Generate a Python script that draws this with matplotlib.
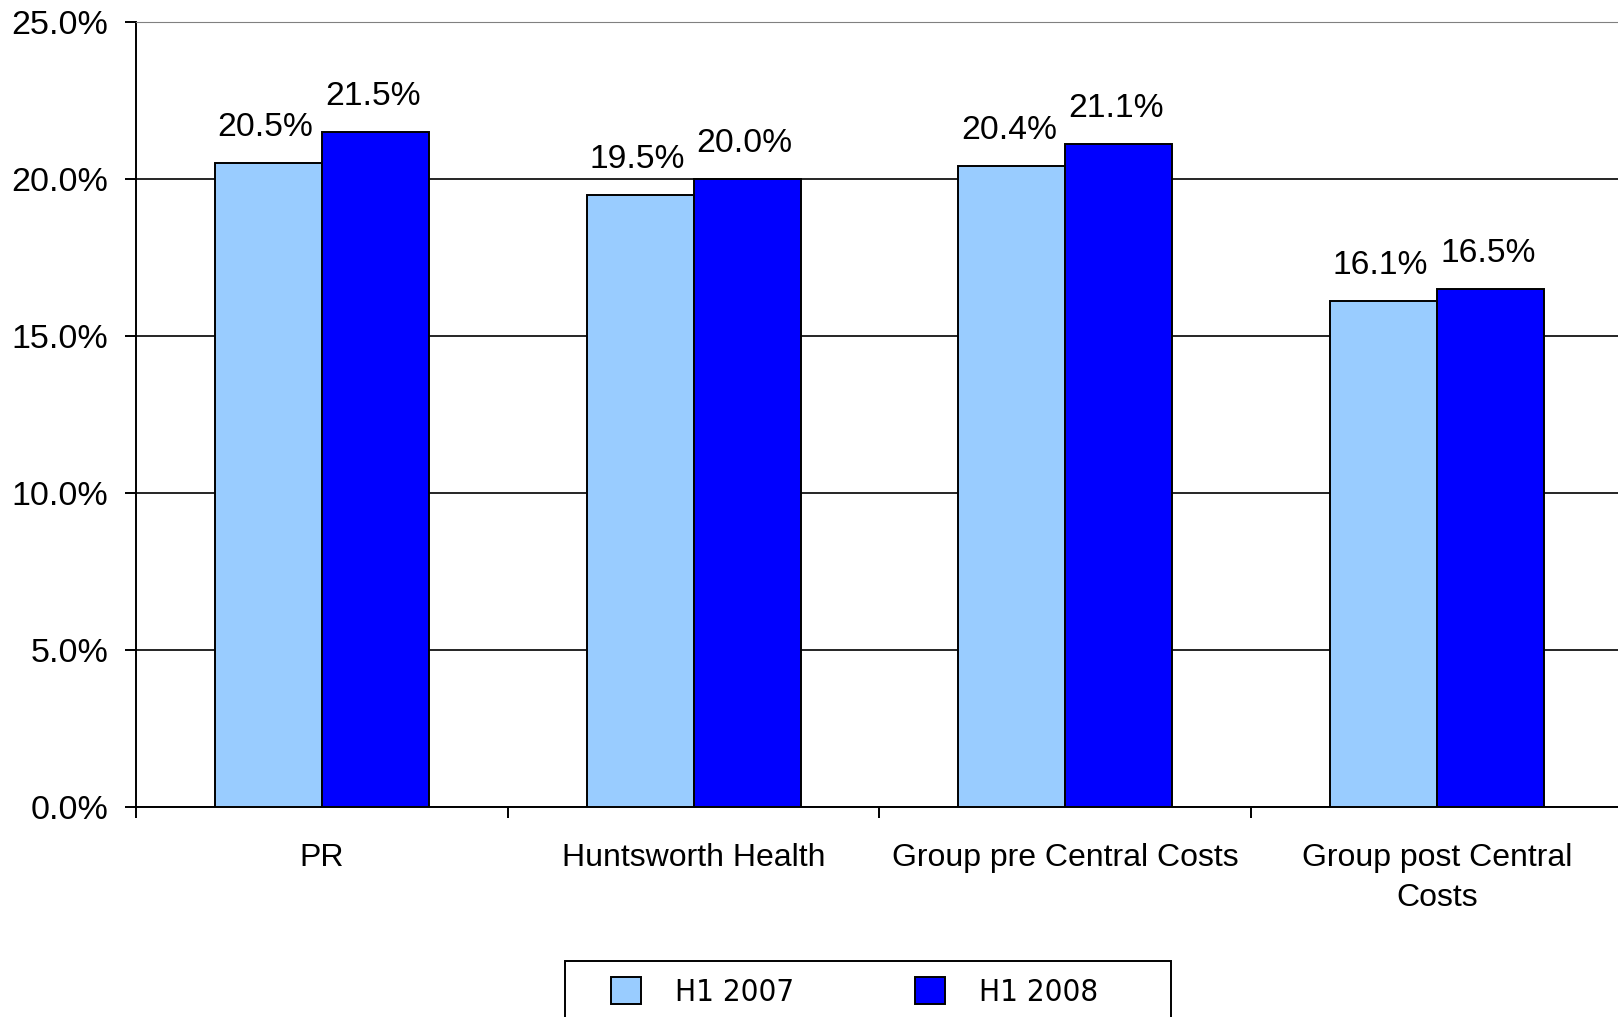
import numpy as np
import matplotlib
matplotlib.use("Agg")
import matplotlib.pyplot as plt
from matplotlib.patches import Patch, Rectangle

categories = ["PR", "Huntsworth Health", "Group pre Central Costs", "Group post Central\nCosts"]
h1_2007 = [20.5, 19.5, 20.4, 16.1]
h1_2008 = [21.5, 20.0, 21.1, 16.5]
series_names = ["H1 2007", "H1 2008"]
yticks = [0, 5, 10, 15, 20, 25]

light = "#99CCFF"
dark = "#0000FF"
lw = 1.4

plt.rcParams["font.family"] = ["Liberation Sans", "DejaVu Sans"]

fig = plt.figure(figsize=(16.18, 10.17), dpi=100)
ax = fig.add_axes([0.0841, 0.2065, 0.9189, 0.7719])

x = np.arange(len(categories))
w = 0.288
b1 = ax.bar(x - w/2, h1_2007, w, color=light, edgecolor="black", linewidth=lw, zorder=3)
b2 = ax.bar(x + w/2, h1_2008, w, color=dark, edgecolor="black", linewidth=lw, zorder=3)

for bars, vals in [(b1, h1_2007), (b2, h1_2008)]:
    for r, v in zip(bars, vals):
        ax.annotate(f"{v:.1f}%", (r.get_x() + r.get_width()/2, v), xytext=(-2, 19.5),
                    textcoords="offset points", ha="center", va="baseline", fontsize=24.2)

ax.set_xlim(-0.5, len(categories) - 0.5)
ax.set_ylim(0, 25)
ax.set_yticks(yticks)
ax.set_yticklabels([f"{t:.1f}%" for t in yticks], fontsize=24.5)
ax.yaxis.grid(True, color="black", linewidth=1.2, zorder=0)
ax.set_axisbelow(True)

ax.set_xticks(np.arange(len(categories) + 1) - 0.5)
ax.set_xticklabels([])
ax.set_xticks(x, minor=True)
ax.set_xticklabels(categories, minor=True, fontsize=23, linespacing=1.45)
ax.tick_params(axis="x", which="minor", length=0, pad=26)
ax.tick_params(axis="x", which="major", length=8, width=lw)
ax.tick_params(axis="y", length=8, width=lw, pad=12)

ax.spines["right"].set_visible(False)
ax.spines["top"].set_color("#808080")
ax.spines["left"].set_linewidth(lw)
ax.spines["bottom"].set_linewidth(lw)

# legend box (cut off by the bottom of the figure as in the original)
fig.patches.append(Rectangle((565/1618, -0.05), (1171 - 565)/1618, 0.05 + 1 - 961/1017,
                             transform=fig.transFigure, facecolor="white",
                             edgecolor="black", linewidth=lw, zorder=1))

handles = [Patch(facecolor=light, edgecolor="black", linewidth=lw),
           Patch(facecolor=dark, edgecolor="black", linewidth=lw)]
leg = fig.legend(handles, series_names, loc="upper left", bbox_to_anchor=(611/1618, 1 - 977/1017),
                 ncol=2, frameon=False,
                 prop={"family": "DejaVu Sans", "stretch": "condensed", "size": 22.5},
                 handlelength=0.95, handleheight=0.95, columnspacing=3.87, handletextpad=1.1,
                 borderpad=0, borderaxespad=0)
leg.set_zorder(2)

fig.savefig("out.png", dpi=100)
